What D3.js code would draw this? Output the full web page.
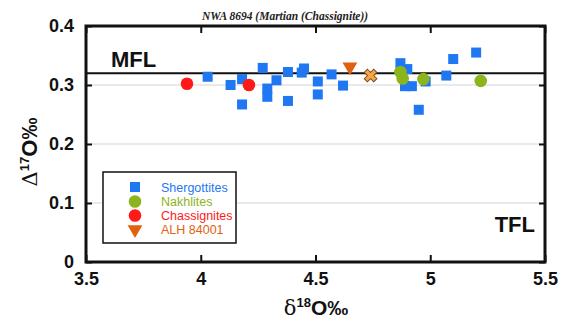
<!DOCTYPE html>
<html>
<head>
<meta charset="utf-8">
<script src="https://cdn.jsdelivr.net/npm/d3@7"></script>
<style>
  body { margin: 0; background: #fff; }
  svg { display: block; font-family: Arial, "Liberation Sans", sans-serif; }
</style>
</head>
<body>
<svg id="chart" width="561" height="322"></svg>
<script>
// oxygen isotope data, [d18O, D17O]
const shergottites = [
  [4.03, 0.314], [4.13, 0.300], [4.18, 0.310], [4.18, 0.267], [4.27, 0.329],
  [4.29, 0.294], [4.29, 0.280], [4.33, 0.308], [4.38, 0.322], [4.38, 0.273],
  [4.44, 0.321], [4.45, 0.328], [4.51, 0.306], [4.51, 0.284], [4.57, 0.318],
  [4.62, 0.299], [4.87, 0.337], [4.90, 0.327], [4.89, 0.298], [4.92, 0.298],
  [4.95, 0.258], [4.98, 0.306], [5.07, 0.316], [5.10, 0.344], [5.20, 0.355]
];
const nakhlites = [[4.87, 0.322], [4.88, 0.311], [4.97, 0.310], [5.22, 0.307]];
const chassignites = [[3.94, 0.302], [4.21, 0.300]];
const alh84001 = [[4.65, 0.331]];
const nwa8694 = [[4.74, 0.316]];
const mflValue = 0.32;

const xTicks = [3.5, 4, 4.5, 5, 5.5];
const yTicks = [0, 0.1, 0.2, 0.3, 0.4];
const legendNames = ["Shergottites", "Nakhlites", "Chassignites", "ALH 84001"];

const colors = {
  sher: "#1f78f2",
  nakh: "#8bb51c",
  chas: "#ff1a1a",
  alh: "#e0620e",
  nwa: "#f7a34a"
};

const svg = d3.select("#chart");
const pLeft = 86, pRight = 545, pTop = 26, pBottom = 262;

const x = d3.scaleLinear().domain([3.5, 5.5]).range([pLeft, pRight]);
const y = d3.scaleLinear().domain([0, 0.4]).range([pBottom, pTop]);

// title
svg.append("text")
  .attr("x", 285).attr("y", 20)
  .attr("text-anchor", "middle")
  .style("font-family", "'Liberation Serif', 'Times New Roman', serif")
  .style("font-style", "italic")
  .style("font-weight", "bold")
  .style("font-size", "11.5px")
  .style("fill", "#222")
  .text("NWA 8694 (Martian (Chassignite))");

// gridlines
svg.append("g").selectAll("line")
  .data(yTicks.filter(d => d > 0 && d < 0.4))
  .enter().append("line")
  .attr("x1", pLeft).attr("x2", pRight)
  .attr("y1", d => y(d)).attr("y2", d => y(d))
  .style("stroke", "#d4d4d4").style("stroke-width", 1);

// axes
const yAxis = svg.append("g")
  .attr("transform", "translate(" + pLeft + ",0)")
  .call(d3.axisLeft(y).tickValues(yTicks).tickFormat(d3.format("")).tickSizeInner(-6).tickSizeOuter(0).tickPadding(12));
const yAxisR = svg.append("g")
  .attr("transform", "translate(" + pRight + ",0)")
  .call(d3.axisRight(y).tickValues(yTicks).tickFormat("").tickSizeInner(-6).tickSizeOuter(0));
const xAxis = svg.append("g")
  .attr("transform", "translate(0," + pBottom + ")")
  .call(d3.axisBottom(x).tickValues(xTicks).tickFormat(d3.format("")).tickSizeInner(-7).tickSizeOuter(0).tickPadding(10));
const xAxisT = svg.append("g")
  .attr("transform", "translate(0," + pTop + ")")
  .call(d3.axisTop(x).tickValues(xTicks).tickFormat("").tickSizeInner(-7).tickSizeOuter(0));

[yAxis, yAxisR, xAxis, xAxisT].forEach(a => {
  a.select(".domain").remove();
  a.selectAll("line").style("stroke", "#111").style("stroke-width", 2);
  a.selectAll("text").style("font-size", "18px").style("font-weight", "bold")
    .style("fill", "#111").style("font-family", "Arial, 'Liberation Sans', sans-serif");
});

// MFL reference line
svg.append("line")
  .attr("x1", pLeft).attr("x2", pRight)
  .attr("y1", y(mflValue)).attr("y2", y(mflValue))
  .style("stroke", "#111").style("stroke-width", 2);

svg.append("text").attr("x", 111).attr("y", 67)
  .style("font-size", "22px").style("font-weight", "bold").style("fill", "#111")
  .text("MFL");
svg.append("text").attr("x", 535).attr("y", 232)
  .attr("text-anchor", "end")
  .style("font-size", "22px").style("font-weight", "bold").style("fill", "#111")
  .text("TFL");

// points
const sq = 10;
svg.append("g").selectAll("rect")
  .data(shergottites).enter().append("rect")
  .attr("x", d => x(d[0]) - sq / 2).attr("y", d => y(d[1]) - sq / 2)
  .attr("width", sq).attr("height", sq)
  .style("fill", colors.sher);

svg.append("g").selectAll("circle")
  .data(nakhlites).enter().append("circle")
  .attr("cx", d => x(d[0])).attr("cy", d => y(d[1])).attr("r", 6.3)
  .style("fill", colors.nakh);

svg.append("g").selectAll("circle")
  .data(chassignites).enter().append("circle")
  .attr("cx", d => x(d[0])).attr("cy", d => y(d[1])).attr("r", 6.3)
  .style("fill", colors.chas);

const tri = d3.symbol().type(d3.symbolTriangle).size(95);
svg.append("g").selectAll("path")
  .data(alh84001).enter().append("path")
  .attr("d", tri)
  .attr("transform", d => "translate(" + x(d[0]) + "," + y(d[1]) + ") rotate(180)")
  .style("fill", colors.alh);

svg.append("g").selectAll("path")
  .data(nwa8694).enter().append("path")
  .attr("d", d3.symbol().type(d3.symbolCross).size(100))
  .attr("transform", d => "translate(" + x(d[0]) + "," + y(d[1]) + ") rotate(45)")
  .style("fill", colors.nwa).style("stroke", "#7a4a1a").style("stroke-width", 1);

// frame
svg.append("rect")
  .attr("x", pLeft).attr("y", pTop)
  .attr("width", pRight - pLeft).attr("height", pBottom - pTop)
  .style("fill", "none").style("stroke", "#111").style("stroke-width", 3);

// legend
const lg = svg.append("g");
lg.append("rect")
  .attr("x", 103).attr("y", 172).attr("width", 133).attr("height", 71)
  .style("fill", "#fff").style("stroke", "#111").style("stroke-width", 1.5);
const legendColors = [colors.sher, colors.nakh, colors.chas, colors.alh];
const rows = [187, 201.5, 215.5, 229.5];
legendNames.forEach((name, i) => {
  const cy = rows[i];
  if (i === 0) {
    lg.append("rect").attr("x", 135 - 5).attr("y", cy - 5).attr("width", 10).attr("height", 10)
      .style("fill", legendColors[i]);
  } else if (i < 3) {
    lg.append("circle").attr("cx", 135).attr("cy", cy).attr("r", 6.3).style("fill", legendColors[i]);
  } else {
    lg.append("path").attr("d", tri)
      .attr("transform", "translate(135," + cy + ") rotate(180)")
      .style("fill", legendColors[i]);
  }
  lg.append("text").attr("x", 161).attr("y", cy + 4.5)
    .style("font-size", "12.5px").style("fill", legendColors[i])
    .text(name);
});

// axis titles
const xt = svg.append("text").attr("x", 316).attr("y", 315)
  .attr("text-anchor", "middle").style("fill", "#111");
xt.append("tspan").style("font-size", "21px").style("font-family", "'DejaVu Serif', serif").text("δ");
xt.append("tspan").attr("dy", -8).style("font-size", "13px").style("font-weight", "bold").text("18");
xt.append("tspan").attr("dy", 8).style("font-size", "21px").style("font-weight", "bold").text("O‰");

const yt = svg.append("text")
  .attr("transform", "translate(37,152) rotate(-90)")
  .attr("text-anchor", "middle").style("fill", "#111");
yt.append("tspan").style("font-size", "21px").style("font-family", "'DejaVu Serif', serif").text("Δ");
yt.append("tspan").attr("dy", -8).style("font-size", "13px").style("font-weight", "bold").text("17");
yt.append("tspan").attr("dy", 8).style("font-size", "22px").style("font-weight", "bold").text("O‰");
</script>
</body>
</html>
